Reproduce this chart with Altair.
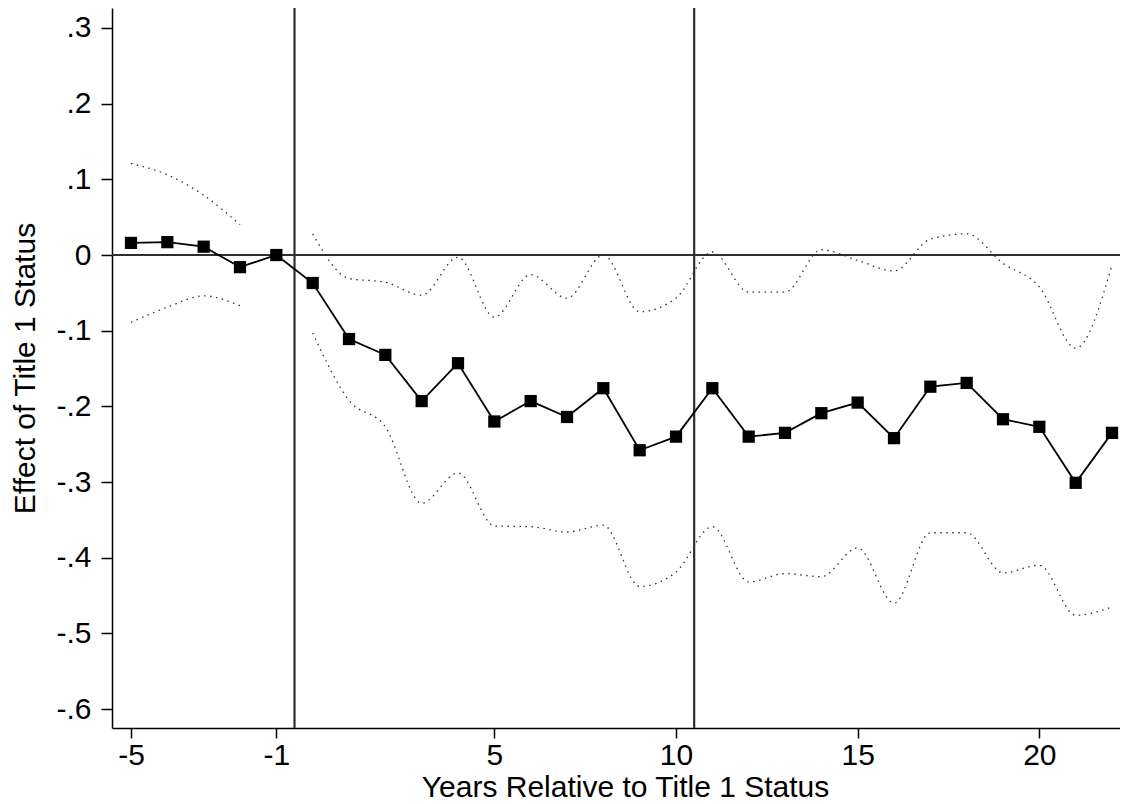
import altair as alt
import pandas as pd

# ---- data ----
years = list(range(-5, 23))
coef = [0.016, 0.017, 0.011, -0.016, 0.0, -0.037, -0.111, -0.132, -0.193, -0.143,
        -0.220, -0.193, -0.214, -0.176, -0.258, -0.240, -0.176, -0.240, -0.235, -0.209,
        -0.195, -0.242, -0.174, -0.169, -0.217, -0.227, -0.301, -0.235]
ci_upper = [0.121, 0.106, 0.079, 0.040, None, 0.028, -0.031, -0.036, -0.053, -0.003,
            -0.082, -0.026, -0.057, 0.000, -0.075, -0.057, 0.004, -0.049, -0.049, 0.007,
            -0.007, -0.021, 0.021, 0.028, -0.011, -0.042, -0.123, -0.013]
ci_lower = [-0.089, -0.069, -0.054, -0.067, None, -0.103, -0.192, -0.227, -0.328, -0.288,
            -0.358, -0.359, -0.366, -0.357, -0.438, -0.419, -0.359, -0.432, -0.421, -0.425,
            -0.387, -0.460, -0.367, -0.367, -0.420, -0.410, -0.476, -0.465]
x_ticks = [-5, -1, 5, 10, 15, 20]
y_ticks = [0.3, 0.2, 0.1, 0.0, -0.1, -0.2, -0.3, -0.4, -0.5, -0.6]
ref_x = [-0.5, 10.5]
ref_y = [0.0]

# ---- tables ----
coef_df = pd.DataFrame({"year": years, "coef": coef})
ci_rows = []
for bound, vals in (("upper", ci_upper), ("lower", ci_lower)):
    for yr, v in zip(years, vals):
        if v is None:
            continue
        seg = "pre" if yr < -1 else "post"
        ci_rows.append({"year": yr, "ci": v, "key": bound + "_" + seg})
ci_df = pd.DataFrame(ci_rows)
vx_df = pd.DataFrame({"year": ref_x})
hy_df = pd.DataFrame({"ci": ref_y})

FONT = "Liberation Sans"
FS = 30
X_TITLE = "Years Relative to Title 1 Status"
Y_TITLE = "Effect of Title 1 Status"
x_scale = alt.Scale(domain=[-5.523, 22.22], nice=False, zero=False)
y_scale = alt.Scale(domain=[-0.625, 0.3264], nice=False, zero=False)

x_axis = alt.Axis(
    values=x_ticks, title=X_TITLE, grid=False,
    tickSize=10, tickWidth=1.5, tickColor="black", domainColor="black", domainWidth=1.5,
    labelFont=FONT, labelFontSize=FS, labelColor="black", labelPadding=2,
    titleFont=FONT, titleFontSize=FS, titleColor="black", titleFontWeight="normal",
    titlePadding=2, titleX=513, labelFlush=False,
    labelExpr="datum.value < 0 ? '-' + format(abs(datum.value), 'd') : format(datum.value, 'd')",
)
y_axis = alt.Axis(
    values=y_ticks, title=Y_TITLE, grid=False,
    tickSize=11, tickWidth=1.5, tickColor="black", domainColor="black", domainWidth=1.5,
    labelFont=FONT, labelFontSize=FS, labelColor="black", labelPadding=10,
    titleFont=FONT, titleFontSize=FS, titleColor="black", titleFontWeight="normal",
    titlePadding=15, labelFlush=False,
    labelExpr="abs(datum.value) < 1e-9 ? '0' : (datum.value < 0 ? '-' : '') + replace(format(abs(datum.value), '.1f'), '0.', '.')",
)

X = alt.X("year:Q", scale=x_scale, axis=x_axis, title=X_TITLE)

ci_lines = alt.Chart(ci_df).mark_line(
    color="#333333", strokeWidth=1.3, strokeDash=[1.5, 4.5], interpolate="monotone"
).encode(
    x=X,
    y=alt.Y("ci:Q", scale=y_scale, axis=y_axis, title=Y_TITLE),
    detail="key:N",
)

vlines = alt.Chart(vx_df).mark_rule(color="#2e2e2e", strokeWidth=2.2).encode(x=X)
hline = alt.Chart(hy_df).mark_rule(color="#2e2e2e", strokeWidth=2.2).encode(
    y=alt.Y("ci:Q", scale=y_scale, axis=y_axis, title=Y_TITLE)
)

coef_line = alt.Chart(coef_df).mark_line(color="black", strokeWidth=1.8).encode(
    x=X,
    y=alt.Y("coef:Q", scale=y_scale, axis=y_axis, title=Y_TITLE),
)
coef_pts = alt.Chart(coef_df).mark_point(
    shape="square", filled=True, size=150, color="black", opacity=1
).encode(
    x=X,
    y=alt.Y("coef:Q", scale=y_scale, axis=y_axis, title=Y_TITLE),
)

chart = alt.layer(ci_lines, vlines, hline, coef_line, coef_pts).properties(
    width=1008, height=720,
    autosize=alt.AutoSizeParams(type="none"),
    padding={"left": 104, "top": 0, "right": 0, "bottom": 80},
    background="white",
).configure_view(stroke=None)

chart.save("out.html", embed_options={"renderer": "svg", "actions": False})
